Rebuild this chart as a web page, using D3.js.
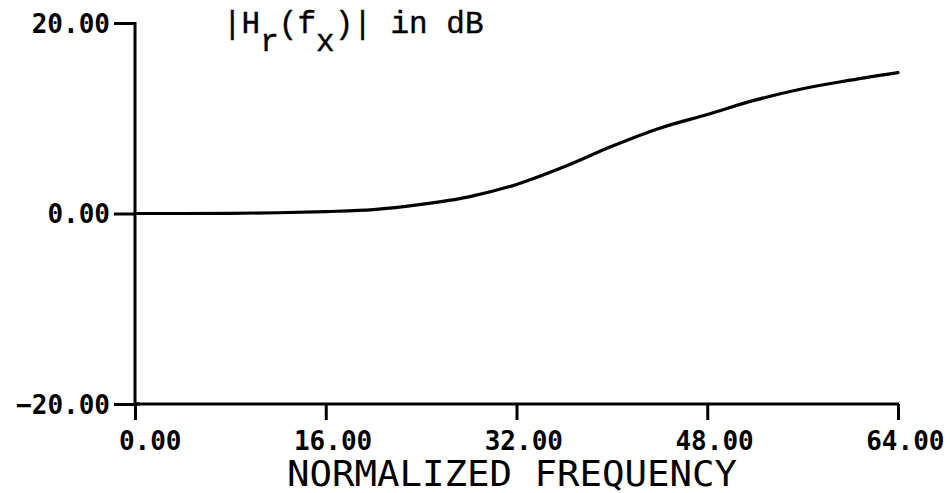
<!DOCTYPE html>
<html>
<head>
<meta charset="utf-8">
<script src="https://cdn.jsdelivr.net/npm/d3@7"></script>
<style>
  body { margin: 0; background: #fff; }
  svg { display: block; }
  .tick text { font-family: "DejaVu Sans Mono", monospace; font-weight: bold; font-size: 26px; fill: #000; }
</style>
</head>
<body>
<svg id="chart" width="950" height="493"></svg>
<script>
// frequency response (normalized frequency, dB)
var freq = [0, 4, 8, 12, 16, 20, 24, 28, 32, 36, 40, 44, 48, 52, 56, 60, 64];
var gainDb = [0, 0, 0.02, 0.08, 0.2, 0.4, 0.95, 1.75, 3.05, 4.9, 7.05, 8.95, 10.4, 11.9, 13.1, 14.0, 14.8];
var xTicks = [0, 16, 32, 48, 64];
var yTicks = [-20, 0, 20];

var svg = d3.select("#chart");

var x = d3.scaleLinear().domain([0, 64]).range([135, 898]);
var y = d3.scaleLinear().domain([-20, 20]).range([404, 23]);
var fmt = d3.format(".2f");

// y axis, ticks to the left
var yAxis = svg.append("g")
    .attr("transform", "translate(" + x(0) + ",0)")
    .call(d3.axisLeft(y).tickValues(yTicks).tickFormat(fmt).tickSize(21).tickSizeOuter(0).tickPadding(4));
yAxis.select(".domain").remove();
yAxis.selectAll(".tick line").attr("stroke", "#000").attr("stroke-width", 3);
yAxis.selectAll(".tick text").attr("dy", "0.36em");

// x axis, ticks hanging down, labels right aligned past the tick
var xAxis = svg.append("g")
    .attr("transform", "translate(0," + y(-20) + ")")
    .call(d3.axisBottom(x).tickValues(xTicks).tickFormat(fmt).tickSize(16).tickSizeOuter(0));
xAxis.select(".domain").remove();
xAxis.selectAll(".tick line").attr("stroke", "#000").attr("stroke-width", 3);
xAxis.selectAll(".tick text")
    .attr("text-anchor", "end")
    .attr("x", 46)
    .attr("y", 46)
    .attr("dy", 0);

// axis lines
svg.append("line")
    .attr("x1", x(0)).attr("x2", x(0))
    .attr("y1", y(20) - 1).attr("y2", y(-20))
    .attr("stroke", "#000").attr("stroke-width", 3);
svg.append("line")
    .attr("x1", x(0) - 1).attr("x2", x(64) + 1)
    .attr("y1", y(-20)).attr("y2", y(-20))
    .attr("stroke", "#000").attr("stroke-width", 3);
// small overshoot of the -20 tick past the axis
svg.append("line")
    .attr("x1", x(0)).attr("x2", x(0) + 5)
    .attr("y1", y(-20)).attr("y2", y(-20))
    .attr("stroke", "#000").attr("stroke-width", 3);

// curve
var line = d3.line()
    .x(function (d, i) { return x(freq[i]); })
    .y(function (d) { return y(d); })
    .curve(d3.curveMonotoneX);
svg.append("path")
    .datum(gainDb)
    .attr("d", line)
    .attr("fill", "none")
    .attr("stroke", "#000")
    .attr("stroke-width", 3.2)
    .attr("stroke-linecap", "round");

// title |H_r(f_x)| in dB
var title = svg.append("text")
    .attr("x", 223).attr("y", 33)
    .attr("font-family", "Liberation Mono, Courier New, monospace")
    .attr("font-size", 31)
    .attr("stroke", "#000").attr("stroke-width", 0.4)
    .attr("fill", "#000");
title.append("tspan").text("|H");
title.append("tspan").attr("dy", 18).text("r");
title.append("tspan").attr("dy", -18).text("(f");
title.append("tspan").attr("dy", 18).text("x");
title.append("tspan").attr("dy", -18).text(")| in dB");

// x axis label
svg.append("text")
    .attr("x", 512).attr("y", 486)
    .attr("text-anchor", "middle")
    .attr("font-family", "DejaVu Sans Mono, monospace")
    .attr("font-size", 35)
    .attr("textLength", 450)
    .attr("lengthAdjust", "spacingAndGlyphs")
    .attr("fill", "#000")
    .text("NORMALIZED FREQUENCY");
</script>
</body>
</html>
